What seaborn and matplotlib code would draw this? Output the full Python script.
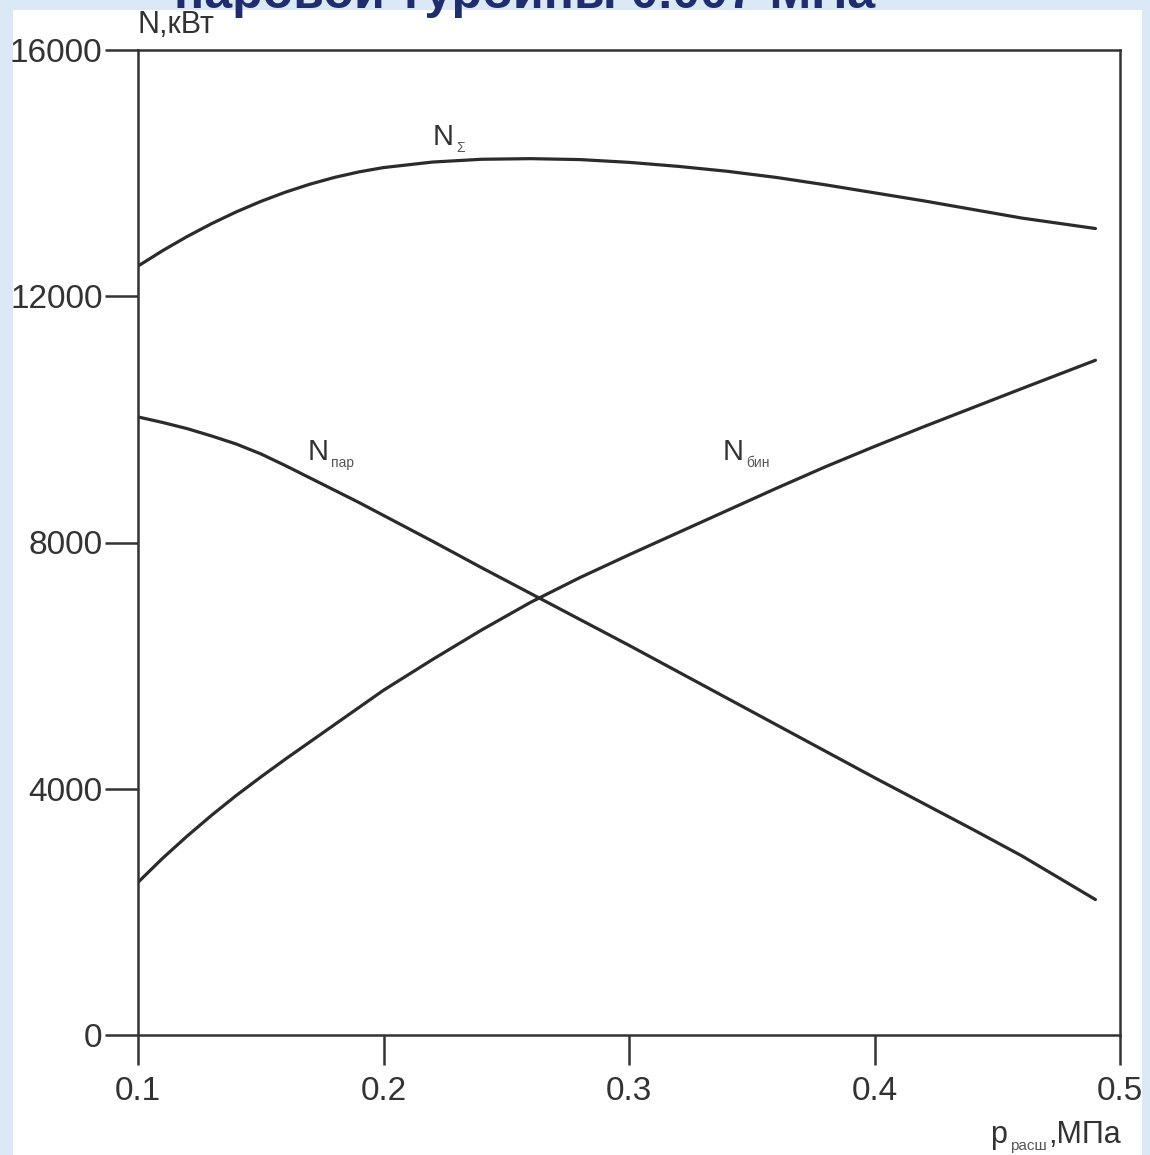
import matplotlib
matplotlib.use("Agg")
import matplotlib.pyplot as plt
import pandas as pd
import seaborn as sns
from matplotlib.patches import Rectangle

# values
x_sum = [0.10, 0.11, 0.12, 0.13, 0.14, 0.15, 0.16, 0.17, 0.18, 0.19, 0.20, 0.22, 0.24,
         0.26, 0.28, 0.30, 0.32, 0.34, 0.36, 0.38, 0.40, 0.42, 0.44, 0.46, 0.49]
n_sum = [12490, 12740, 12970, 13180, 13370, 13540, 13690, 13820, 13930, 14020, 14090, 14180, 14225,
         14235, 14220, 14175, 14110, 14030, 13930, 13810, 13680, 13550, 13410, 13270, 13100]

x_par = [0.10, 0.11, 0.12, 0.13, 0.14, 0.15, 0.16, 0.17, 0.18, 0.19, 0.20, 0.22, 0.24,
         0.26, 0.28, 0.30, 0.32, 0.34, 0.36, 0.38, 0.40, 0.42, 0.44, 0.46, 0.49]
n_par = [10040, 9950, 9850, 9730, 9600, 9440, 9250, 9050, 8850, 8650, 8440, 8020, 7590,
         7170, 6750, 6330, 5900, 5470, 5040, 4610, 4180, 3760, 3340, 2910, 2200]

x_bin = [0.10, 0.11, 0.12, 0.13, 0.14, 0.15, 0.16, 0.17, 0.18, 0.19, 0.20, 0.22, 0.24,
         0.26, 0.28, 0.30, 0.32, 0.34, 0.36, 0.38, 0.40, 0.42, 0.44, 0.46, 0.49]
n_bin = [2480, 2870, 3230, 3570, 3890, 4190, 4480, 4760, 5040, 5320, 5600, 6100, 6580,
         7030, 7430, 7800, 8160, 8520, 8880, 9230, 9560, 9880, 10190, 10500, 10960]

x_ticks = [0.1, 0.2, 0.3, 0.4, 0.5]
x_tick_labels = ["0.1", "0.2", "0.3", "0.4", "0.5"]
y_ticks = [0, 4000, 8000, 12000, 16000]

W, H = 1150, 1155

sns.set_theme(style="white")
plt.rcParams["font.family"] = ["Liberation Sans", "DejaVu Sans"]

fig = plt.figure(figsize=(W / 100, H / 100), dpi=100)
fig.patch.set_facecolor("#dbe8f5")

# white slide panel, kept behind the axes
fig.patches.append(Rectangle((13 / W, 0), (1142 - 13) / W, 1 - 10 / H,
                             transform=fig.transFigure, facecolor="white",
                             edgecolor="none", zorder=-10))

ax = fig.add_axes([138 / W, (H - 1035) / H, (1120 - 138) / W, (1035 - 50) / H])
ax.set_zorder(1)
ax.set_facecolor("white")

line_color = "#2b2b2b"
curves = [(x_sum, n_sum), (x_par, n_par), (x_bin, n_bin)]
for xs, ys in curves:
    df = pd.DataFrame({"p": xs, "N": ys})
    sns.lineplot(data=df, x="p", y="N", ax=ax, color=line_color,
                 linewidth=2.3, sort=True, estimator=None)

ax.set_xlim(0.1, 0.5)
ax.set_ylim(0, 16000)
ax.set_xticks(x_ticks)
ax.set_xticklabels(x_tick_labels)
ax.set_yticks(y_ticks)
ax.set_yticklabels([str(v) for v in y_ticks])
ax.set_xlabel("")
ax.set_ylabel("")

for spine in ax.spines.values():
    spine.set_visible(True)
    spine.set_color("#333333")
    spine.set_linewidth(1.8)

ax.tick_params(axis="y", direction="out", length=24, width=1.8,
               color="#333333", labelsize=24, labelcolor="#333333", pad=1.5)
ax.tick_params(axis="x", direction="out", length=21.5, width=1.8,
               color="#333333", labelsize=24, labelcolor="#333333", pad=8)
ax.tick_params(left=True, bottom=True)

# curve labels: main letter plus small subscript
labels = [(0.2202, 14457, "Σ"), (0.1689, 9340, "пар"), (0.3383, 9340, "бин")]
for lx, ly, sub in labels:
    ax.text(lx, ly, "N", fontsize=21, color="#333333", va="baseline")
    ax.annotate(sub, xy=(lx, ly), xytext=(17, -5), textcoords="offset points",
                fontsize=10, color="#555555", va="baseline")

# axis titles
fig.text(137 / W, 1 - 33 / H, "N,кВт", fontsize=22, color="#333333", va="baseline")
fig.text(990 / W, 1 - 1143 / H, "p", fontsize=22, color="#333333", va="baseline")
fig.text(1010 / W, 1 - 1150 / H, "расш", fontsize=11, color="#555555", va="baseline")
fig.text(1048 / W, 1 - 1143 / H, ",МПа", fontsize=22, color="#333333", va="baseline")

# title cut off at the top of the slide
fig.text(525 / W, 1 - 8 / H, "паровой турбины 0.007 МПа", fontsize=36,
         fontweight="bold", color="#1f2d6e", ha="center", va="baseline")

fig.savefig("out.png", dpi=100, facecolor=fig.get_facecolor())
